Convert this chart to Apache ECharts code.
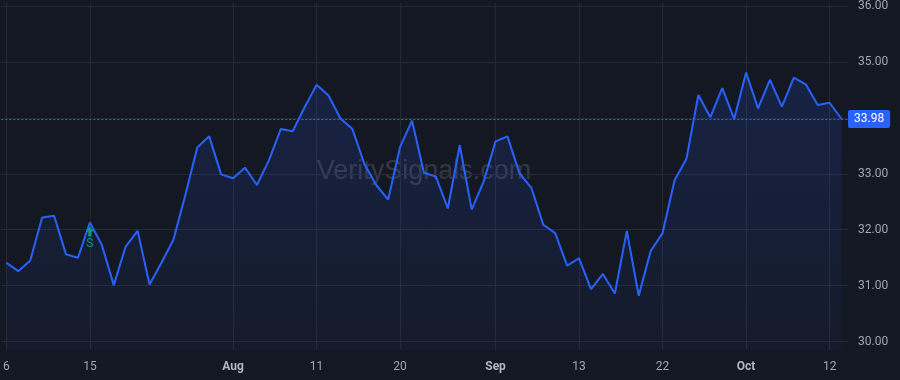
<!DOCTYPE html>
<html>
<head>
<meta charset="utf-8">
<script src="https://cdn.jsdelivr.net/npm/echarts@6/dist/echarts.min.js"></script>
<style>
  html, body { margin: 0; padding: 0; background: #141823; }
  #chart { width: 900px; height: 380px; }
</style>
</head>
<body>
<div id="chart"></div>
<script>
// trading days, Jul 6 - Oct 13 2021
const dates = [
  "2021-07-06", "2021-07-07", "2021-07-08", "2021-07-09", "2021-07-12", "2021-07-13", "2021-07-14", "2021-07-15",
  "2021-07-16", "2021-07-19", "2021-07-20", "2021-07-21", "2021-07-22", "2021-07-23", "2021-07-26", "2021-07-27",
  "2021-07-28", "2021-07-29", "2021-07-30",
  "2021-08-02", "2021-08-03", "2021-08-04", "2021-08-05", "2021-08-06", "2021-08-09", "2021-08-10", "2021-08-11",
  "2021-08-12", "2021-08-13", "2021-08-16", "2021-08-17", "2021-08-18", "2021-08-19", "2021-08-20", "2021-08-23",
  "2021-08-24", "2021-08-25", "2021-08-26", "2021-08-27", "2021-08-30", "2021-08-31",
  "2021-09-01", "2021-09-02", "2021-09-03", "2021-09-07", "2021-09-08", "2021-09-09", "2021-09-10", "2021-09-13",
  "2021-09-14", "2021-09-15", "2021-09-16", "2021-09-17", "2021-09-20", "2021-09-21", "2021-09-22", "2021-09-23",
  "2021-09-24", "2021-09-27", "2021-09-28", "2021-09-29", "2021-09-30",
  "2021-10-01", "2021-10-04", "2021-10-05", "2021-10-06", "2021-10-07", "2021-10-08", "2021-10-11", "2021-10-12",
  "2021-10-13",
];

const closes = [
  31.41, 31.26, 31.45, 32.22, 32.25, 31.56, 31.50, 32.13, 31.73, 31.01,
  31.70, 31.98, 31.02, 31.41, 31.82, 32.62, 33.47, 33.67, 32.99, 32.92,
  33.11, 32.80, 33.24, 33.80, 33.76, 34.19, 34.59, 34.40, 33.99, 33.80,
  33.18, 32.80, 32.54, 33.48, 33.95, 33.02, 32.95, 32.38, 33.51, 32.36,
  32.86, 33.58, 33.67, 33.01, 32.75, 32.09, 31.94, 31.36, 31.49, 30.94,
  31.21, 30.86, 31.98, 30.82, 31.62, 31.94, 32.88, 33.27, 34.41, 34.01,
  34.53, 33.98, 34.81, 34.17, 34.68, 34.20, 34.72, 34.60, 34.23, 34.27,
  33.98,
];

const tickDates = [
  "2021-07-06", "2021-07-15", "2021-08-02", "2021-08-11", "2021-08-20",
  "2021-09-01", "2021-09-13", "2021-09-22", "2021-10-01", "2021-10-12",
];
const priceTicks = [30, 31, 32, 33, 34, 35, 36];
const priceLabels = [30, 31, 32, 33, 35, 36];
const signals = [{ date: "2021-07-15", text: "S" }];

const monthNames = ["Jan", "Feb", "Mar", "Apr", "May", "Jun", "Jul", "Aug", "Sep", "Oct", "Nov", "Dec"];
const lastPrice = closes[closes.length - 1];
const tickIdx = tickDates.map((d) => dates.indexOf(d));

function dateLabel(i) {
  const d = dates[i];
  if (!d) return "";
  const month = Number(d.slice(5, 7));
  const prev = dates[i - 1];
  if (prev && Number(prev.slice(5, 7)) !== month) {
    return "{m|" + monthNames[month - 1] + "}";
  }
  return String(Number(d.slice(8, 10)));
}

const gridColor = "#242937";
const textColor = "#a3a6af";
const blue = "#2962ff";

const chart = echarts.init(document.getElementById("chart"));
chart.setOption({
  animation: false,
  backgroundColor: "#141823",
  textStyle: { fontFamily: "Roboto, sans-serif" },
  grid: { left: 0, right: 52, top: 0, bottom: 30 },
  graphic: [{
    type: "text",
    x: 424,
    y: 172,
    style: {
      text: "VeritySignals.com",
      fill: "rgba(255,255,255,0.14)",
      font: "27px 'Liberation Sans', Arial, sans-serif",
      textAlign: "center",
      textVerticalAlign: "middle",
    },
  }],
  xAxis: {
    type: "value",
    min: -0.42,
    max: 70.54,
    axisLine: { show: false },
    axisTick: { show: false, customValues: tickIdx },
    splitLine: { show: true, lineStyle: { color: gridColor, width: 1 } },
    axisLabel: {
      customValues: tickIdx,
      color: textColor,
      fontSize: 12,
      margin: 11,
      formatter: (v) => dateLabel(Math.round(v)),
      rich: { m: { fontWeight: "bold", color: "#b2b5be", fontSize: 12 } },
    },
  },
  yAxis: {
    type: "value",
    position: "right",
    min: 29.85,
    max: 36.06,
    axisLine: { show: false },
    axisTick: { show: false, customValues: priceTicks },
    splitLine: { show: true, lineStyle: { color: gridColor, width: 1 } },
    axisLabel: {
      customValues: priceLabels,
      color: textColor,
      fontSize: 12,
      margin: 10,
      formatter: (v) => v.toFixed(2),
    },
  },
  series: [{
    type: "line",
    data: closes.map((c, i) => [i, c]),
    showSymbol: false,
    lineStyle: { color: blue, width: 2 },
    itemStyle: { color: blue },
    areaStyle: {
      origin: "start",
      color: new echarts.graphic.LinearGradient(0, 0, 0, 1, [
        { offset: 0, color: "rgba(41,98,255,0.22)" },
        { offset: 1, color: "rgba(41,98,255,0.05)" },
      ]),
    },
    markLine: {
      silent: true,
      symbol: "none",
      lineStyle: { color: blue, type: [2, 2], width: 1 },
      label: {
        position: "end",
        distance: 0,
        formatter: lastPrice.toFixed(2),
        color: "#ffffff",
        backgroundColor: blue,
        padding: [3, 6, 3, 6],
        borderRadius: 2,
        fontSize: 12,
      },
      data: [{ yAxis: lastPrice }],
    },
    markPoint: {
      silent: true,
      symbol: "path://M5,0 L10,5 L7,5 L7,10 L3,10 L3,5 L0,5 Z",
      symbolSize: [8, 10],
      symbolOffset: [0, 9],
      itemStyle: { color: "#089981" },
      label: {
        show: true,
        position: "bottom",
        distance: 2,
        color: "#089981",
        fontSize: 12,
        formatter: (p) => p.name,
      },
      data: signals.map((s) => {
        const i = dates.indexOf(s.date);
        return { name: s.text, coord: [i, closes[i]] };
      }),
    },
  }],
});
</script>
</body>
</html>
